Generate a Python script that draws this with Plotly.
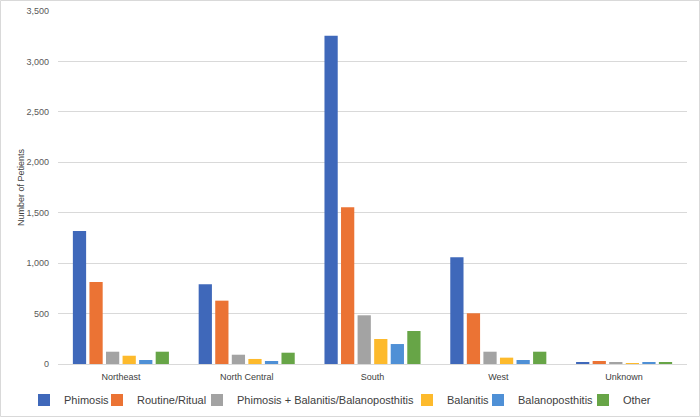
import plotly.graph_objects as go

regions = ["Northeast", "North Central", "South", "West", "Unknown"]
phimosis = [1319, 791, 3254, 1058, 20]
routine = [813, 628, 1554, 503, 30]
phim_bal = [122, 92, 483, 122, 10]
balanitis = [82, 50, 248, 63, 2]
balanoposthitis = [40, 30, 198, 40, 10]
other = [122, 112, 327, 122, 10]

series = [
    ("Phimosis", phimosis, "#3F68BA"),
    ("Routine/Ritual", routine, "#EB7334"),
    ("Phimosis + Balanitis/Balanoposthitis", phim_bal, "#A3A3A3"),
    ("Balanitis", balanitis, "#FDBA2C"),
    ("Balanoposthitis", balanoposthitis, "#4F90D6"),
    ("Other", other, "#67A547"),
]
# left edge (px) of each legend label text in the reference
legend_text_px = [62, 135, 235, 445, 516, 621]

W, H = 700, 417
ml, mr, mt, mb = 58, 13, 11, 53

fig = go.Figure()
for i, (name, vals, col) in enumerate(series):
    lg = "legend" if i == 0 else f"legend{i+1}"
    fig.add_trace(go.Bar(x=regions, y=vals, name=name, marker_color=col,
                         marker_line_width=0, legend=lg))

pw = W - ml - mr
ph = H - mt - mb
fig.add_shape(type="rect", xref="paper", yref="paper",
              x0=(0.5 - ml) / pw, x1=(W - 0.5 - ml) / pw,
              y0=-(H - 0.5 - mt - ph) / ph, y1=1 + (mt - 0.5) / ph,
              line=dict(color="#d9d9d9", width=1), layer="below")

legends = {}
for i, px in enumerate(legend_text_px):
    key = "legend" if i == 0 else f"legend{i+1}"
    legends[key] = dict(orientation="h", xref="container", yref="container",
                        x=(px - 38) / W, xanchor="left", y=1 - 400 / H, yanchor="middle",
                        font=dict(size=11, color="#404040"), itemwidth=30,
                        bgcolor="rgba(0,0,0,0)", borderwidth=0)

fig.update_layout(
    width=W, height=H,
    margin=dict(l=ml, r=mr, t=mt, b=mb, autoexpand=False),
    paper_bgcolor="white", plot_bgcolor="white",
    barmode="group", bargap=0.21, bargroupgap=0.2,
    font=dict(family="Liberation Sans, Arial, sans-serif", color="#595959", size=9),
    showlegend=True,
    xaxis=dict(showline=True, linecolor="#d9d9d9", linewidth=1, ticks="",
               ticklabelstandoff=4, tickfont=dict(size=9, color="#404040")),
    yaxis=dict(range=[0, 3500], dtick=500, tickformat=",", showgrid=True,
               gridcolor="#d9d9d9", zeroline=False, ticks="", ticklabelstandoff=8,
               title=dict(text="Number of Petients", font=dict(size=9, color="#404040"), standoff=0),
               tickfont=dict(size=9, color="#595959")),
    **legends,
)

fig.write_html("out.html", config={"displayModeBar": False},
               post_script="document.body.style.margin='0';")
